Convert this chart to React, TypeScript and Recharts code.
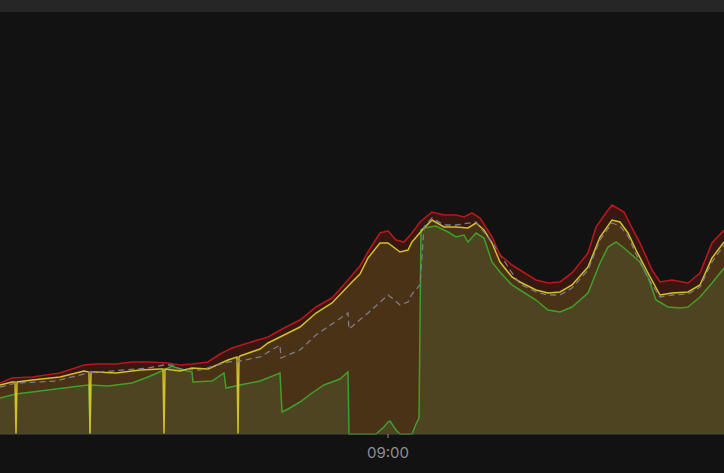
import React from "react";
import { ComposedChart, Area, Line, XAxis, YAxis } from "recharts";

type Point = [number, number];

// [minutes since midnight, value]
const redPoints: Point[] = [
  [443, 51], [446, 56], [451, 57], [458, 61], [464, 69], [467, 70], [472, 70], [476, 72],
  [480, 72], [485, 71], [488, 69], [491, 70], [495, 72], [498, 80], [501, 86], [505, 91],
  [510, 97], [514, 106], [518, 114], [522, 127], [526, 136], [530, 154], [533, 168], [535, 182],
  [538, 201], [540, 203], [542, 194], [544, 192], [546, 201], [548, 212], [551, 222], [554, 219],
  [557, 219], [559, 217], [561, 221], [563, 216], [566, 197], [568, 179], [571, 169], [573, 164],
  [577, 154], [580, 151], [583, 152], [586, 161], [590, 181], [592, 207], [595, 224], [596, 229],
  [599, 222], [601, 206], [603, 191], [606, 164], [608, 152], [611, 154], [615, 151], [618, 161],
  [621, 191], [624, 204],
];

const yellowPoints: Point[] = [
  [443, 49], [446, 52], [446.75, 52], [447, 0], [447.25, 52], [451, 54], [458, 57], [464, 63],
  [465.25, 62], [465.5, 0], [465.75, 62], [467, 62], [472, 61], [478, 64], [483, 65], [483.75, 65],
  [484, 0], [484.25, 65], [488, 63], [491, 66], [495, 65], [500, 74], [502.25, 77], [502.5, 0],
  [502.75, 77], [503, 78], [508, 85], [510, 91], [515, 101], [518, 107], [522, 121], [526, 131],
  [531, 152], [533, 160], [535, 176], [538, 191], [540, 191], [543, 182], [545, 184], [546, 192],
  [549, 206], [551, 214], [554, 207], [557, 207], [560, 206], [562, 211], [564, 204], [566, 191],
  [568, 172], [571, 157], [573, 152], [577, 144], [580, 141], [583, 142], [586, 149], [590, 167],
  [593, 197], [596, 214], [598, 212], [600, 201], [602, 184], [605, 161], [608, 139], [611, 141],
  [615, 142], [618, 149], [621, 176], [624, 192],
];

const grayPoints: Point[] = [
  [443, 47], [447, 51], [457, 53], [465, 61], [480, 66], [484, 69], [486, 69], [488, 65],
  [493, 64], [500, 72], [503, 73], [508, 77], [513, 89], [513.25, 76], [518, 84], [522, 99],
  [530, 121], [530.25, 105], [535, 121], [540, 139], [541, 136], [543, 129], [545, 132], [546, 140],
  [548, 149], [549, 207], [551, 216], [554, 209], [557, 209], [562, 212], [566, 192], [571, 161],
  [573, 150], [577, 142], [580, 139], [583, 139], [586, 146], [590, 164], [593, 194], [596, 211],
  [598, 208], [600, 198], [602, 180], [605, 156], [608, 137], [611, 139], [615, 140], [618, 147],
  [621, 172], [624, 189],
];

const greenPoints: Point[] = [
  [443, 36], [447, 40], [465, 49], [465.25, 49], [465.5, 0], [465.75, 49], [470, 48], [476, 51],
  [480, 57], [484, 64], [486, 68], [488, 65], [491, 62], [491.25, 52], [496, 53], [499, 61],
  [499.5, 46], [503, 49], [508, 53], [513, 61], [513.5, 22], [515, 25], [518, 32], [521, 41],
  [524, 49], [528, 55], [530, 62], [530.25, 0], [537, 0], [539, 7], [540, 12], [540.5, 13],
  [542, 4], [543, 0], [546, 0], [547, 10], [547.75, 16], [548.25, 204], [549, 206], [552, 208],
  [555, 202], [557, 197], [559, 199], [560, 192], [562, 201], [564, 196], [566, 172], [568, 162],
  [571, 149], [573, 144], [577, 134], [580, 124], [583, 122], [586, 127], [590, 141], [593, 171],
  [595, 187], [597, 192], [599, 186], [601, 179], [603, 172], [605, 157], [607, 134], [610, 127],
  [613, 126], [615, 127], [618, 137], [621, 151], [624, 166],
];

const timeTicks = [540];
const timeDomain = [443, 624];
const valueDomain = [0, 422];

const seriesPoints: Record<string, Point[]> = {
  red: redPoints,
  yellow: yellowPoints,
  gray: grayPoints,
  green: greenPoints,
};

// one row per timestamp, series without a sample there stay empty and get bridged
function buildRows() {
  const rows = new Map<number, Record<string, number>>();
  for (const [key, pts] of Object.entries(seriesPoints)) {
    for (const [t, v] of pts) {
      const row = rows.get(t) ?? { t };
      row[key] = v;
      rows.set(t, row);
    }
  }
  return [...rows.values()].sort((a, b) => a.t - b.t);
}

const rows = buildRows();

const pad = (n: number) => String(Math.floor(n)).padStart(2, "0");
const fmtTime = (m: number) => `${pad(m / 60)}:${pad(m % 60)}`;

const App: React.FC = () => {
  return (
    <div style={{ width: 724, height: 473, background: "#121212", position: "relative" }}>
      <style>{`body { margin: 0; }`}</style>
      <div style={{ height: 12, background: "#262626" }} />
      <ComposedChart
        width={724}
        height={461}
        data={rows}
        margin={{ top: 0, right: 0, left: 0, bottom: 0 }}
      >
        <XAxis
          dataKey="t"
          type="number"
          domain={timeDomain}
          ticks={timeTicks}
          tickFormatter={fmtTime}
          height={39}
          axisLine={{ stroke: "#4b4b4b" }}
          tickLine={{ stroke: "#8a8a8a" }}
          tickSize={4}
          tickMargin={9}
          tick={{ fill: "#8e8e95", fontSize: 15, fontFamily: "Inter, sans-serif" }}
        />
        <YAxis hide domain={valueDomain} />

        {/* fills */}
        <Area type="linear" dataKey="red" stroke="none" fill="#371811" fillOpacity={1} connectNulls isAnimationActive={false} />
        <Area type="linear" dataKey="yellow" stroke="none" fill="#4a3216" fillOpacity={1} connectNulls isAnimationActive={false} />
        <Area type="linear" dataKey="green" stroke="none" fill="#4f4421" fillOpacity={1} connectNulls isAnimationActive={false} />

        {/* lines */}
        <Line type="linear" dataKey="green" stroke="#3ea02c" strokeWidth={1.5} dot={false} connectNulls isAnimationActive={false} />
        <Line type="linear" dataKey="yellow" stroke="#d2c02c" strokeWidth={1.5} dot={false} connectNulls isAnimationActive={false} />
        <Line type="linear" dataKey="gray" stroke="#7c7c8a" strokeWidth={1.3} strokeDasharray="6 4" dot={false} connectNulls isAnimationActive={false} />
        <Line type="linear" dataKey="red" stroke="#b8171d" strokeWidth={1.6} dot={false} connectNulls isAnimationActive={false} />
      </ComposedChart>
    </div>
  );
};

export default App;
